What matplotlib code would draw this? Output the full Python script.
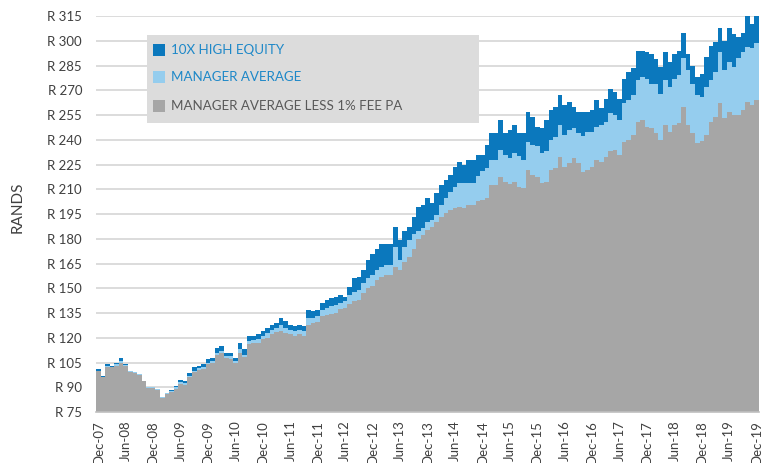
import numpy as np
import matplotlib
matplotlib.use("Agg")
import matplotlib.pyplot as plt
from matplotlib.patches import Rectangle

plt.rcParams['font.family'] = ['Lato', 'DejaVu Sans']

# monthly values, Dec-07 .. Dec-19 (145 months)
high_equity = [
    101, 97, 104, 103, 105, 107.5, 104, 100, 99, 98, 94, 89.5, 89.5, 89, 83.5, 86.5,
    88.5, 90.5, 94.5, 93.5, 98.5, 102, 103, 104, 107, 108, 114, 115, 111, 111, 108,
    117, 113, 121, 121, 122, 124, 126, 128, 129, 132, 130, 128, 127, 128, 127, 137,
    136, 137, 141, 143, 144, 145, 146, 145, 151, 156, 157, 161, 167, 171, 174, 177,
    177, 177, 187, 179, 185, 187, 193, 199, 200.5, 204.5, 201.5, 207.5, 212.5, 215.5,
    218.5, 223.5, 226.5, 224.5, 227.5, 228, 231, 231, 237, 244, 244, 252, 244, 246,
    249, 244, 244, 257, 254, 248, 247, 252, 258, 260, 267, 261, 263, 260, 257, 257,
    257, 258, 264, 259, 265, 271, 269, 265, 277, 281, 283.5, 294, 294, 293, 292, 289,
    284, 293, 287, 292, 294, 305, 292, 285, 278, 280, 290, 297, 299, 308, 300, 308,
    304, 302, 305, 315, 310, 315,
]
manager_avg = [
    100, 96.5, 103, 102.5, 104, 106, 103.5, 100, 99, 98, 94, 90, 90, 89, 84, 86.5,
    88, 90, 93, 92.5, 97, 100, 101.5, 102, 105, 106, 111, 112, 109, 109, 106,
    113, 109.5, 118, 118.5, 119, 121, 123, 125, 126, 127.5, 126, 125, 124, 125, 124, 132,
    132, 133, 137, 138, 139, 140, 141, 142, 146, 148, 149, 153, 156, 158, 161, 163,
    164, 164, 175, 167, 175, 179, 183, 185, 186.5, 190, 191.5, 194.5, 200.5, 204.5,
    208.5, 211.5, 213.5, 213.5, 213.5, 214, 218, 221, 223, 227.5, 228, 233.8, 230.8, 229,
    232, 230, 228, 238.6, 237, 236, 232, 233, 240, 241.7, 249, 243, 246, 247, 244, 242,
    245, 245, 248, 249, 251, 256, 255, 252, 262, 264, 267, 276, 278, 277, 274, 274,
    268, 276, 272, 277, 279, 289.5, 282, 274, 267, 266, 272, 276, 281, 293, 282, 287,
    284, 289.5, 293, 296.5, 295.6, 298.6,
]
manager_less_fee = [
    100, 96, 102.5, 102, 103, 105, 103, 99.5, 98.5, 97.5, 93.5, 89.5, 89.5, 88.5, 83.5, 86,
    87, 89, 92, 91.5, 96, 99, 100.5, 101, 104, 105, 109.5, 110.5, 107.5, 107, 104.5,
    110.8, 108.5, 116, 117, 117, 119.5, 120, 122, 123.5, 124, 123, 122, 121, 122, 121, 128,
    129, 129.5, 133, 134, 134.5, 135, 137.5, 138, 140.5, 142, 143, 147, 150, 151.5, 155, 157,
    158, 158, 163, 161, 166, 169, 174, 180, 182.3, 185.3, 187.3, 190.3, 193.4, 195.4,
    197.4, 198.4, 199.4, 198.4, 200.5, 200.5, 203, 203.5, 205, 212.6, 212.6, 217.5, 214.5, 213,
    214.5, 211.5, 210.6, 221.7, 218.6, 217.5, 213.6, 214.5, 221.7, 222.8, 229.6, 223.8, 226, 228.7, 226, 220.7,
    221.7, 223.8, 227.7, 226.6, 229.6, 233, 234, 231, 238.6, 239.7, 243, 250.8, 252, 248, 247, 244,
    240, 249, 245, 249, 250, 260, 249, 244, 238, 239, 243, 250.8, 254, 262, 253, 257,
    255, 255, 258, 263, 261, 264,
]

tick_labels = ["Dec-07", "Jun-08", "Dec-08", "Jun-09", "Dec-09", "Jun-10", "Dec-10",
               "Jun-11", "Dec-11", "Jun-12", "Dec-12", "Jun-13", "Dec-13", "Jun-14",
               "Dec-14", "Jun-15", "Dec-15", "Jun-16", "Dec-16", "Jun-17", "Dec-17",
               "Jun-18", "Dec-18", "Jun-19", "Dec-19"]
y_ticks = list(range(75, 316, 15))

series_names = ["10X HIGH EQUITY", "MANAGER AVERAGE", "MANAGER AVERAGE LESS 1% FEE PA"]
colors = ["#0B78BD", "#95CDEE", "#A6A6A6"]
text_colors = ["#1E88C8", "#1E88C8", "#595959"]

fig = plt.figure(figsize=(7.73, 4.63), dpi=100)
ax = fig.add_axes([0.1242, 0.1101, 0.8577, 0.8553])

n = len(high_equity)
edges = np.arange(n + 1) - 0.5
for vals, c in zip([high_equity, manager_avg, manager_less_fee], colors):
    ax.stairs(vals, edges, baseline=0, fill=True, color=c, lw=0, zorder=2)

ax.set_xlim(-0.5, n - 0.5)
ax.set_ylim(75, 315)
ax.set_yticks(y_ticks)
ax.set_yticklabels([f"R {v}" for v in y_ticks])
ax.set_xticks(np.arange(0, n, 6))
ax.set_xticklabels(tick_labels, rotation=90)
ax.yaxis.grid(True, color="#D9D9D9", lw=1.3, zorder=0)
ax.set_axisbelow(True)
for s in ["top", "right", "left"]:
    ax.spines[s].set_visible(False)
ax.spines["bottom"].set_color("#BFBFBF")
ax.spines["bottom"].set_linewidth(1.2)
ax.spines["bottom"].set_zorder(3)
ax.tick_params(axis="y", length=0, pad=10, labelsize=9.5, labelcolor="#404040")
ax.tick_params(axis="x", length=0, pad=6, labelsize=9.5, labelcolor="#404040")

fig.text(18 / 773, 1 - 207 / 463, "RANDS", rotation=90, ha="center", va="center",
         fontsize=11, color="#404040")

# legend box
W, H = 773, 463
fig.patches.append(Rectangle((147 / W, 1 - 123 / H), 332 / W, 88 / H,
                             transform=fig.transFigure, facecolor="#DCDCDC",
                             edgecolor="none", zorder=5))
rows = [50, 77, 106]
for name, c, tc, yc in zip(series_names, colors, text_colors, rows):
    fig.patches.append(Rectangle((153 / W, 1 - (yc + 5.5) / H), 12 / W, 11 / H,
                                 transform=fig.transFigure, facecolor=c,
                                 edgecolor="none", zorder=6))
    fig.text(171 / W, 1 - yc / H, name, ha="left", va="center", fontsize=9.6,
             color=tc, zorder=7)

fig.savefig("out.png", dpi=100)
